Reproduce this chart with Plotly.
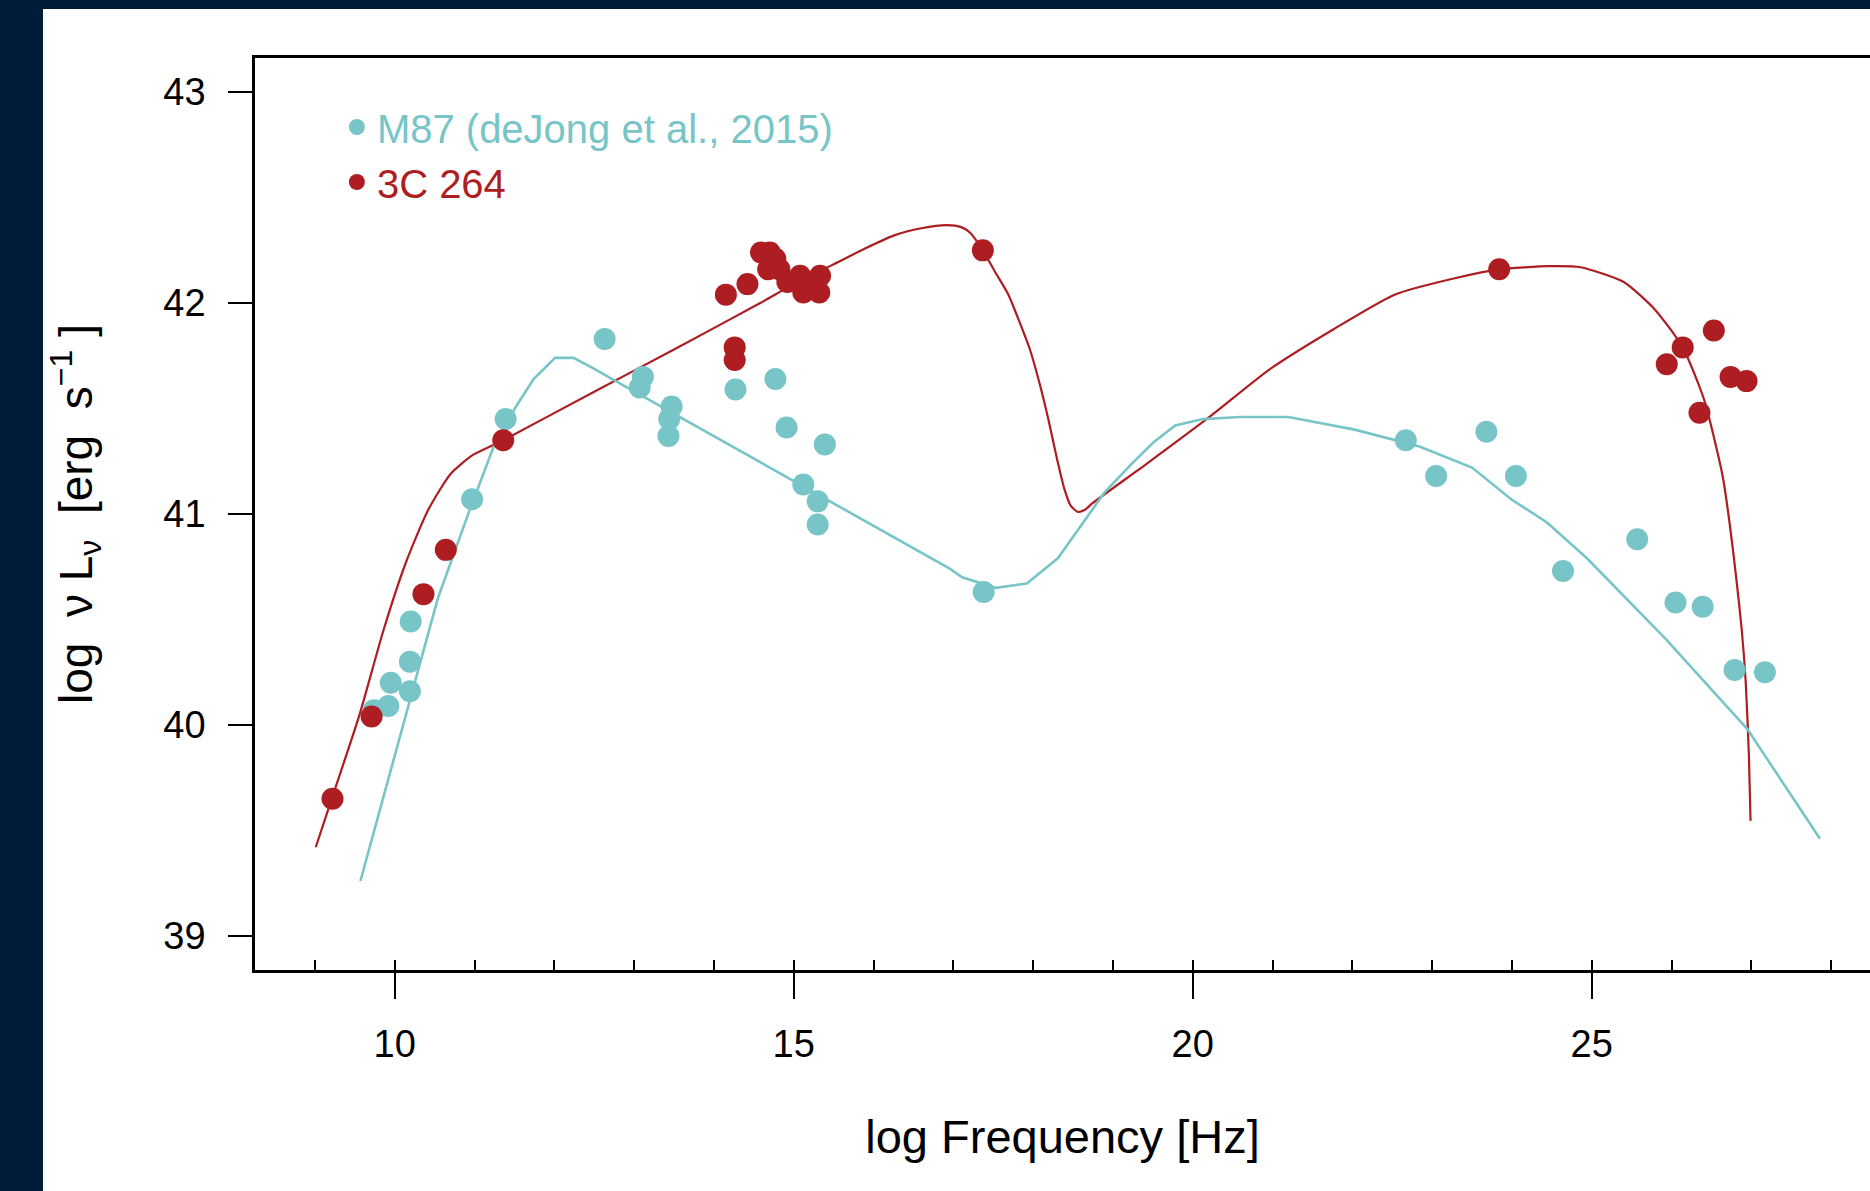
import plotly.graph_objects as go

# ---------------- data ----------------
m87_x = [9.74, 9.92, 9.95, 10.19, 10.19, 10.20, 10.97, 11.39, 12.63, 13.07, 13.11,
         13.43, 13.44, 13.47, 14.27, 14.77, 14.91, 15.12, 15.30, 15.30, 15.39, 17.38,
         22.67, 23.05, 23.68, 24.05, 24.64, 25.57, 26.05, 26.39, 26.79, 27.17]
m87_y = [40.07, 40.09, 40.20, 40.16, 40.30, 40.49, 41.07, 41.45, 41.83, 41.60, 41.65,
         41.37, 41.45, 41.51, 41.59, 41.64, 41.41, 41.14, 41.06, 40.95, 41.33, 40.63,
         41.35, 41.18, 41.39, 41.18, 40.73, 40.88, 40.58, 40.56, 40.26, 40.25]

c264_x = [9.22, 9.71, 10.36, 10.64, 11.36, 14.15, 14.26, 14.26, 14.42, 14.59, 14.70,
          14.77, 14.68, 14.82, 14.92, 15.08, 15.12, 15.20, 15.33, 15.32, 17.37,
          23.84, 25.94, 26.14, 26.35, 26.53, 26.74, 26.94]
c264_y = [39.65, 40.04, 40.62, 40.83, 41.35, 42.04, 41.79, 41.73, 42.09, 42.24, 42.24,
          42.21, 42.16, 42.16, 42.10, 42.13, 42.05, 42.08, 42.13, 42.05, 42.25,
          42.16, 41.71, 41.79, 41.48, 41.87, 41.65, 41.63]

m87_model_x = [9.57, 9.85, 10.54, 10.93, 11.24, 11.52, 11.74, 12.01, 12.24, 12.49, 12.77,
               16.96, 17.11, 17.53, 17.92, 18.31, 18.89, 19.24, 19.51, 19.78, 20.13,
               20.59, 21.20, 22.03, 22.84, 23.50, 23.99, 24.44, 24.94, 25.92, 26.95, 27.86]
m87_model_y = [39.26, 39.65, 40.60, 41.01, 41.32, 41.51, 41.64, 41.74, 41.74, 41.69, 41.63,
               40.74, 40.70, 40.65, 40.67, 40.79, 41.10, 41.24, 41.34, 41.42, 41.45,
               41.46, 41.46, 41.40, 41.32, 41.22, 41.07, 40.96, 40.79, 40.41, 39.98, 39.46]

c264_model_x = [9.01, 9.22, 9.56, 9.86, 10.14, 10.42, 10.70, 10.98, 11.36, 12.50, 13.50,
                14.58, 15.00, 15.48, 15.90, 16.25, 16.60, 16.92, 17.10, 17.22, 17.30,
                17.37, 17.52, 17.69, 17.84, 17.96, 18.08, 18.19, 18.30, 18.39, 18.47,
                18.56, 18.65, 18.74, 19.43, 20.21, 20.98, 21.76, 22.53, 23.31, 23.84,
                24.47, 24.86, 25.40, 25.79, 26.14, 26.41, 26.64, 26.73, 26.81, 26.88,
                26.93, 26.97, 26.99]
c264_model_y = [39.42, 39.66, 40.05, 40.45, 40.77, 41.02, 41.19, 41.28, 41.35, 41.58, 41.78,
                42.00, 42.09, 42.18, 42.26, 42.32, 42.355, 42.37, 42.36, 42.33, 42.29,
                42.25, 42.15, 42.04, 41.90, 41.78, 41.62, 41.45, 41.26, 41.12, 41.04,
                41.01, 41.02, 41.05, 41.24, 41.46, 41.69, 41.875, 42.04, 42.12, 42.16,
                42.175, 42.17, 42.10, 41.97, 41.79, 41.54, 41.18, 40.95, 40.70, 40.45,
                40.20, 39.85, 39.545]

x_major_ticks = [10, 15, 20, 25]
x_minor_ticks = list(range(9, 29))
y_ticks = [39, 40, 41, 42, 43]

CYAN = "#78c5c8"
RED = "#ad1d21"
NAVY = "#011b3a"
FONT = "Liberation Sans, Arial, Helvetica, sans-serif"

W, H = 1870, 1191
L, R, T, B = 255, 0, 58, 221
X_RANGE = [8.249, 28.487]
Y_RANGE = [38.838, 43.162]

fig = go.Figure()

fig.add_trace(go.Scatter(x=c264_model_x, y=c264_model_y, mode="lines",
                         line=dict(color=RED, width=2.2, shape="spline", smoothing=0.6),
                         showlegend=False, hoverinfo="skip"))
fig.add_trace(go.Scatter(x=m87_model_x, y=m87_model_y, mode="lines",
                         line=dict(color=CYAN, width=2.6),
                         showlegend=False, hoverinfo="skip"))
fig.add_trace(go.Scatter(x=m87_x, y=m87_y, mode="markers",
                         name=f"<span style='color:{CYAN}'>M87 (deJong et al., 2015)</span>",
                         marker=dict(color=CYAN, size=22, line=dict(width=0))))
# drawn on the overlaid (identical) x axis so that it sits on top of everything
fig.add_trace(go.Scatter(x=c264_x, y=c264_y, mode="markers", xaxis="x2", yaxis="y",
                         name=f"<span style='color:{RED}'>3C 264</span>",
                         marker=dict(color=RED, size=22, line=dict(width=0))))

pw = W - L - R
ph = H - T - B

def px_x(p):
    return (p - L) / pw

def px_y(p):
    return (H - B - p) / ph

fig.add_shape(type="rect", xref="paper", yref="paper", layer="below",
              x0=px_x(43), x1=px_x(W + 10), y0=px_y(H + 10), y1=px_y(9),
              fillcolor="white", line=dict(width=0))

fig.update_layout(
    width=W, height=H, autosize=False,
    margin=dict(l=L, r=R, t=T, b=B, pad=0),
    paper_bgcolor=NAVY, plot_bgcolor="white",
    font=dict(family=FONT, color="black", size=38),
    showlegend=True,
    legend=dict(x=0.0507, y=0.960, xanchor="left", yanchor="top",
                bgcolor="rgba(0,0,0,0)", borderwidth=0,
                font=dict(family=FONT, size=40),
                itemsizing="trace", tracegroupgap=0),
    xaxis=dict(range=X_RANGE, showgrid=False, zeroline=False,
               showline=True, linecolor="black", linewidth=2.5, mirror=True,
               tickmode="array", tickvals=x_major_ticks,
               ticktext=[str(v) for v in x_major_ticks],
               ticks="outside", ticklen=26, tickwidth=1.5, tickcolor="black",
               ticklabelstandoff=13,
               tickfont=dict(family=FONT, size=38, color="black"),
               title=dict(text="log Frequency [Hz]",
                          font=dict(family=FONT, size=47, color="black"),
                          standoff=56)),
    xaxis2=dict(range=X_RANGE, matches="x", overlaying="x", anchor="y", side="bottom",
                showgrid=False, zeroline=False, showline=False,
                tickmode="array", tickvals=x_minor_ticks,
                ticks="inside", ticklen=10, tickwidth=1.5, tickcolor="black",
                showticklabels=False),
    yaxis=dict(range=Y_RANGE, showgrid=False, zeroline=False,
               showline=True, linecolor="black", linewidth=2.5, mirror=False,
               tickmode="array", tickvals=y_ticks,
               ticks="outside", ticklen=24, tickwidth=2, tickcolor="black",
               ticklabelstandoff=15,
               tickfont=dict(family=FONT, size=38, color="black"),
               title=dict(text="log  \u03bd L<sub>\u03bd</sub>  [erg  s<sup>\u22121</sup> ]",
                          font=dict(family=FONT, size=46, color="black"),
                          standoff=57)),
)

fig.write_html("out.html")
